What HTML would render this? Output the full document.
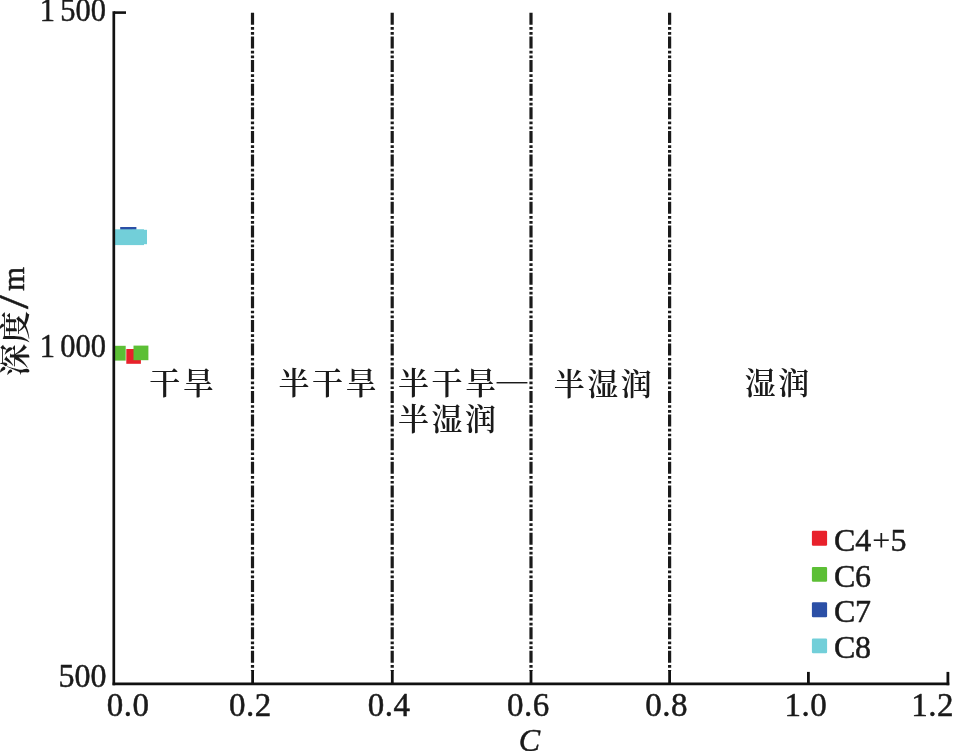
<!DOCTYPE html>
<html lang="zh">
<head>
<meta charset="utf-8">
<title>深度 / C</title>
<style>
html,body{margin:0;padding:0;background:#fff;}
body{width:953px;height:751px;overflow:hidden;}
svg{display:block;}
text{fill:#1a1a1a;}
.lat{font-family:"Liberation Serif","Noto Serif CJK SC",serif;stroke:#1a1a1a;stroke-width:0.5px;stroke-linejoin:round;}
.cjk{font-family:"Liberation Serif","Noto Serif CJK SC",serif;font-weight:600;}
</style>
</head>
<body>
<svg width="953" height="751" viewBox="0 0 953 751">
<rect x="0" y="0" width="953" height="751" fill="#ffffff"/>

<!-- dashed zone boundaries -->
<g stroke="#1a1a1a" stroke-width="3.2" stroke-dasharray="12 2.27 2.7 2.17 2.7 1.79" fill="none">
<line x1="252.5" y1="12.8" x2="252.5" y2="671"/>
<line x1="392.2" y1="12.8" x2="392.2" y2="671"/>
<line x1="531" y1="12.8" x2="531" y2="671"/>
<line x1="669.6" y1="12.8" x2="669.6" y2="671"/>
</g>

<!-- data markers -->
<g>
<rect x="120.2" y="227" width="16.2" height="6" fill="#2b4fa6"/>
<rect x="113" y="229.3" width="31" height="15.8" fill="#72cfd9"/>
<rect x="132" y="229.8" width="15" height="14.4" fill="#72cfd9"/>
<rect x="126.3" y="349" width="14.6" height="14.8" fill="#e8212b"/>
<rect x="113.5" y="345.8" width="12.2" height="14.8" fill="#5cbf35"/>
<rect x="133.5" y="345.6" width="14.9" height="14.6" fill="#5cbf35"/>
</g>

<!-- axes -->
<g stroke="#111" stroke-width="2.8" fill="none">
<line x1="113.8" y1="11.3" x2="113.8" y2="685.2" stroke-width="2.7"/>
<line x1="112.6" y1="683.8" x2="949.3" y2="683.8"/>
<line x1="114" y1="12.6" x2="126" y2="12.6" stroke-width="2.6"/>
<line x1="252.6" y1="670" x2="252.6" y2="684"/>
<line x1="392.3" y1="670" x2="392.3" y2="684"/>
<line x1="531" y1="670" x2="531" y2="684"/>
<line x1="669.6" y1="670" x2="669.6" y2="684"/>
<line x1="808.4" y1="671.9" x2="808.4" y2="684"/>
<line x1="947.9" y1="671.9" x2="947.9" y2="685.2"/>
</g>

<!-- y tick labels -->
<g class="lat" font-size="32.8" text-anchor="end" word-spacing="-2.3">
<text transform="translate(106.1,21) scale(0.93,1)">1 500</text>
<text transform="translate(106.1,357) scale(0.93,1)">1 000</text>
<text transform="translate(106.5,686.7) scale(0.975,1)">500</text>
</g>

<!-- x tick labels -->
<g class="lat" font-size="33" letter-spacing="0.5">
<text x="106.7" y="715.7">0.0</text>
<text x="229" y="715.7">0.2</text>
<text x="367.7" y="715.7">0.4</text>
<text x="506.9" y="715.7">0.6</text>
<text x="645.3" y="715.7">0.8</text>
<text x="784.4" y="715.7">1.0</text>
<text x="911.3" y="715.7">1.2</text>
</g>
<text class="lat" font-size="32" font-style="italic" x="529.4" y="751" text-anchor="middle">C</text>

<!-- y axis title -->
<g transform="translate(25,375.5) rotate(-90)">
<text class="cjk" font-size="30.5" letter-spacing="0.3" transform="translate(-0.4,1) scale(1.06,1)">深度</text>
<text class="lat" font-size="44" transform="translate(66.6,3.4) scale(1.16,1)" x="0" y="0">/</text>
<text class="lat" font-size="31" x="84.5" y="-1">m</text>
</g>

<!-- zone labels -->
<g class="cjk" font-size="31" letter-spacing="2.5">
<text x="149.2" y="393.8">干旱</text>
<text x="278.4" y="393.8">半干旱</text>
<text x="398" y="393.8">半干旱<tspan font-family="'Noto Serif CJK SC',serif" font-weight="400" font-size="36" letter-spacing="0" dx="-4.6" dy="3.3">—</tspan></text>
<text x="398" y="429.6">半湿润</text>
<text x="553.8" y="395.2">半湿润</text>
<text x="744.8" y="393.8">湿润</text>
</g>

<!-- legend -->
<g>
<rect x="811.9" y="530.7" width="15.2" height="15.1" rx="1.2" fill="#e8212b"/>
<rect x="811.9" y="566.9" width="15.2" height="14.9" rx="1.2" fill="#5cbf35"/>
<rect x="811.9" y="602.3" width="15.2" height="14.9" rx="1.2" fill="#2b4fa6"/>
<rect x="811.9" y="638.5" width="15.2" height="14.7" rx="1.2" fill="#72cfd9"/>
</g>
<g class="lat" font-size="32">
<text x="834" y="550.5">C<tspan dx="0">4</tspan><tspan dx="0.9" stroke-width="0.1">+</tspan><tspan dx="0.3">5</tspan></text>
<text x="834" y="586.6">C<tspan dx="-0.3">6</tspan></text>
<text x="834" y="622.2">C<tspan dx="-0.3">7</tspan></text>
<text x="834" y="657.6">C<tspan dx="-0.3">8</tspan></text>
</g>
</svg>
</body>
</html>
